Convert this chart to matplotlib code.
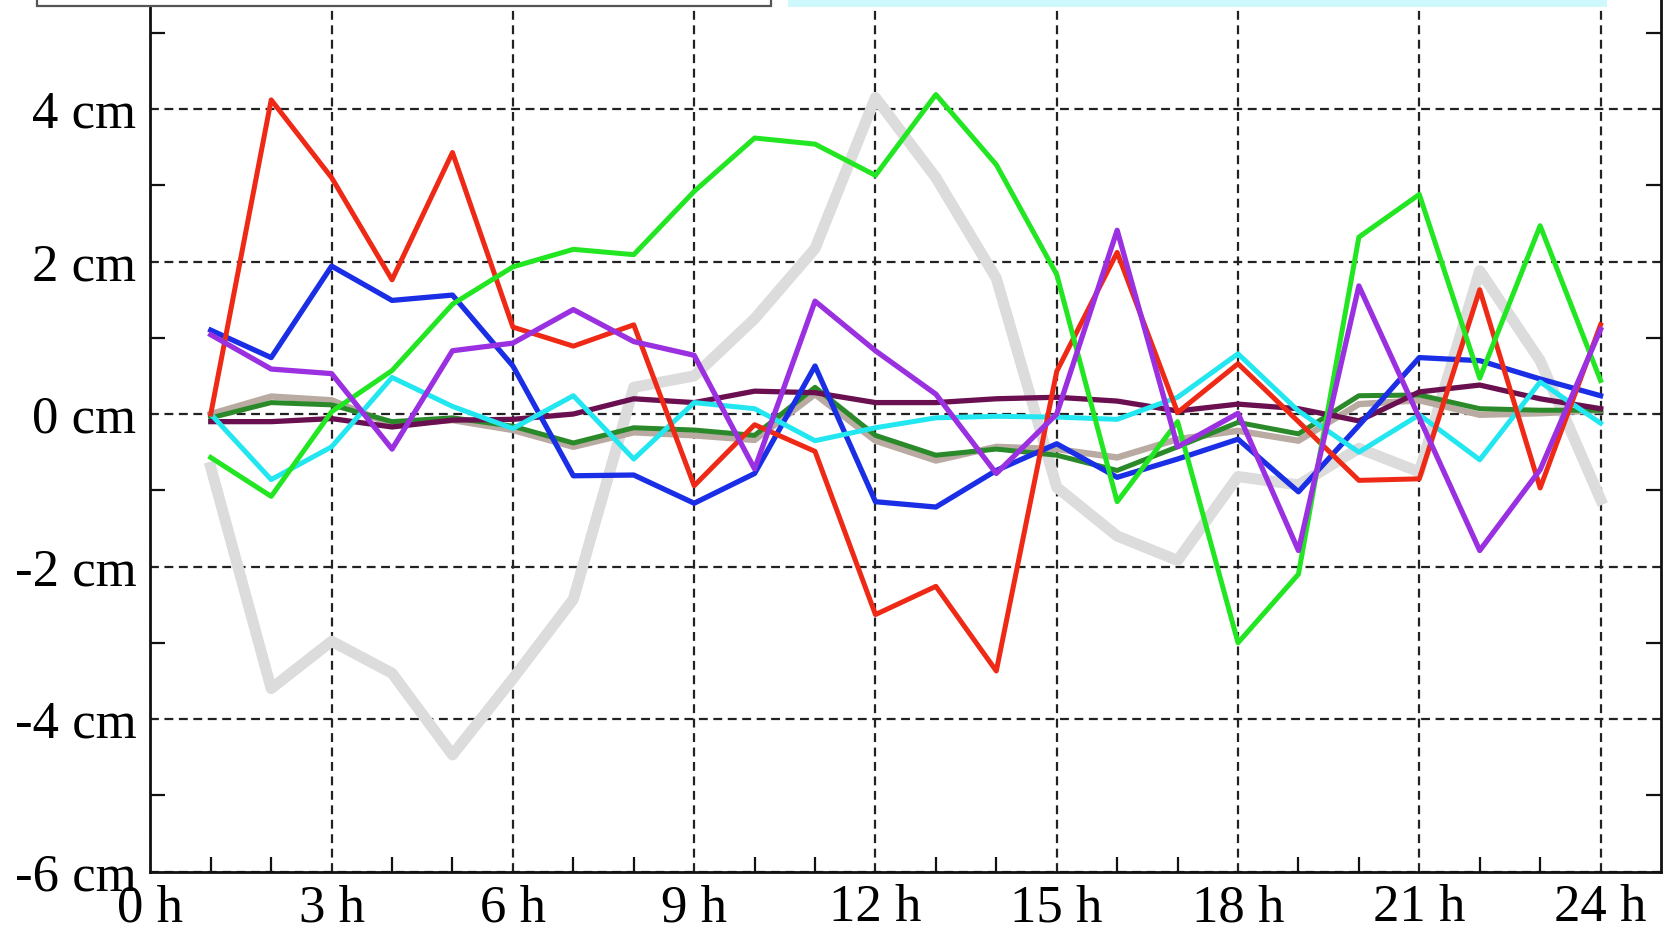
import matplotlib
matplotlib.use("Agg")
import matplotlib.pyplot as plt
from matplotlib.patches import Rectangle

plt.rcParams['font.family'] = ['Liberation Serif', 'DejaVu Serif']

# hours 1..24
hours = list(range(1, 25))

# deviation per hour in cm
gray = [-0.7, -3.6, -2.98, -3.4, -4.47, -3.47, -2.43, 0.35, 0.5, 1.25, 2.17, 4.15,
        3.1, 1.78, -0.96, -1.6, -1.92, -0.82, -0.93, -0.45, -0.76, 1.88, 0.7, -1.12]
tan = [0.0, 0.23, 0.18, -0.14, -0.08, -0.21, -0.43, -0.24, -0.28, -0.34, 0.26, -0.35,
       -0.61, -0.43, -0.46, -0.57, -0.33, -0.22, -0.35, 0.13, 0.18, -0.01, 0.01, 0.05]
dark_green = [-0.05, 0.15, 0.12, -0.1, -0.05, -0.16, -0.38, -0.18, -0.21, -0.28, 0.35, -0.28,
              -0.54, -0.46, -0.54, -0.74, -0.43, -0.11, -0.26, 0.24, 0.25, 0.07, 0.05, 0.05]
maroon = [-0.1, -0.1, -0.06, -0.17, -0.08, -0.07, 0.0, 0.2, 0.15, 0.3, 0.28, 0.15,
          0.15, 0.2, 0.22, 0.17, 0.04, 0.13, 0.07, -0.09, 0.29, 0.38, 0.2, 0.07]
blue = [1.1, 0.74, 1.94, 1.49, 1.56, 0.63, -0.81, -0.8, -1.17, -0.78, 0.63, -1.15,
        -1.22, -0.74, -0.39, -0.83, -0.59, -0.33, -1.02, -0.15, 0.74, 0.7, 0.46, 0.24]
cyan = [0.0, -0.86, -0.43, 0.48, 0.1, -0.19, 0.24, -0.59, 0.15, 0.07, -0.35, -0.18,
        -0.05, -0.03, -0.04, -0.07, 0.22, 0.79, 0.04, -0.5, -0.01, -0.6, 0.42, -0.12]
red = [0.0, 4.12, 3.1, 1.76, 3.43, 1.14, 0.89, 1.17, -0.94, -0.14, -0.49, -2.63,
       -2.26, -3.37, 0.56, 2.12, 0.02, 0.66, -0.1, -0.87, -0.85, 1.63, -0.97, 1.17]
green = [-0.57, -1.08, 0.03, 0.57, 1.44, 1.93, 2.16, 2.09, 2.92, 3.62, 3.54, 3.13,
         4.19, 3.27, 1.83, -1.15, -0.1, -3.0, -2.1, 2.32, 2.88, 0.47, 2.47, 0.44]
purple = [1.04, 0.59, 0.53, -0.46, 0.83, 0.93, 1.37, 0.95, 0.77, -0.72, 1.48, 0.83,
          0.26, -0.78, 0.0, 2.41, -0.43, 0.01, -1.79, 1.68, -0.05, -1.79, -0.73, 1.11]

xticks = list(range(0, 25, 3))
xlabels = [str(h) + " h" for h in xticks]
yticks = [-6, -4, -2, 0, 2, 4]
ylabels = [str(v) + " cm" for v in yticks]

fig = plt.figure(figsize=(16.63, 9.33), dpi=100)
ax = fig.add_axes([0.0904, 0.0659, 0.9084, 0.9341])

# series (drawing order = stacking order)
ax.plot(hours, gray, color="#dcdcdc", lw=8.0)
ax.plot(hours, tan, color="#b9aaa2", lw=4.6)
ax.plot(hours, dark_green, color="#2a8a2a", lw=3.6)
ax.plot(hours, maroon, color="#6a0f50", lw=3.8)
ax.plot(hours, blue, color="#1a2ee6", lw=3.8)
ax.plot(hours, cyan, color="#22e6f0", lw=3.6)
ax.plot(hours, red, color="#ee2a16", lw=3.6)
ax.plot(hours, green, color="#22e622", lw=3.6)
ax.plot(hours, purple, color="#9a30e0", lw=3.8)

ax.set_xlim(0, 25)
ax.set_ylim(-6, 5.43)

ax.set_xticks(xticks)
ax.set_xticklabels(xlabels)
ax.set_yticks(yticks)
ax.set_yticklabels(ylabels)
ax.set_xticks(range(0, 25), minor=True)
ax.set_yticks([-5, -3, -1, 1, 3, 5], minor=True)

ax.tick_params(which='major', length=0, labelsize=38)
ax.tick_params(axis='x', which='major', pad=9)
ax.tick_params(axis='y', which='major', pad=10)
ax.tick_params(which='minor', direction='in', length=11, width=1.6,
               right=True, color='#111111')

ax.grid(True, which='major', color='#222222', lw=1.6, linestyle=(0, (4, 2.5)))
ax.set_axisbelow(True)

ax.spines['top'].set_visible(False)
for s in ['left', 'bottom', 'right']:
    ax.spines[s].set_linewidth(2.0)
    ax.spines[s].set_color('#111111')

# cut-off legend boxes along the top edge
fig.patches.append(Rectangle((37 / 1663, 1 - 6 / 933), (771 - 37) / 1663, 0.05,
                             transform=fig.transFigure, facecolor='white',
                             edgecolor='#555555', lw=1.6, zorder=5))
fig.patches.append(Rectangle((788 / 1663, 1 - 7 / 933), (1607 - 788) / 1663, 0.05,
                             transform=fig.transFigure, facecolor='#cdf9fc',
                             edgecolor='none', zorder=5))

fig.savefig("out.png", dpi=100)
